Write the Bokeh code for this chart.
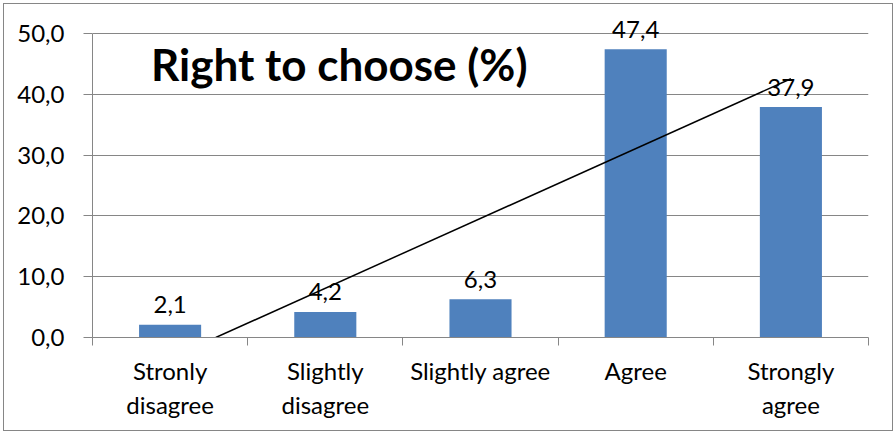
import numpy as np
from bokeh.plotting import figure
from bokeh.models import Range1d, FixedTicker, Label, ColumnDataSource
from bokeh.embed import file_html
from bokeh.resources import INLINE

categories = ["Stronly\ndisagree", "Slightly\ndisagree", "Slightly agree", "Agree", "Strongly\nagree"]
values = [2.1, 4.2, 6.3, 47.4, 37.9]
y_ticks = [0, 10, 20, 30, 40, 50]
y_tick_labels = ["0,0", "10,0", "20,0", "30,0", "40,0", "50,0"]
title_text = "Right to choose (%)"

FONT = "Lato"
GRAY = "#868686"
FS = "24px"

xs = [i + 0.5 for i in range(len(values))]
labels = [f"{v:.1f}".replace(".", ",") for v in values]
src = ColumnDataSource(dict(x=xs, top=values, label=labels))

# frame extends a little above the 50 gridline so the top data label is not clipped
p = figure(width=890, height=428, output_backend="svg", toolbar_location=None,
           x_range=Range1d(0, len(values)), y_range=Range1d(0, 54.1),
           min_border_left=88, min_border_right=26, min_border_top=4, min_border_bottom=95,
           styles={"margin": "3px", "border": "1px solid #868686"})
p.outline_line_color = None
p.background_fill_color = "white"
p.border_fill_color = "white"

p.vbar(x="x", top="top", width=0.4, source=src, fill_color="#4F81BD", line_color=None)

# linear trendline (Excel style), clipped at y=0
xn = np.arange(1, len(values) + 1)
m, b = np.polyfit(xn, values, 1)
x0 = max(-b / m, 1.0)
x1 = float(len(values))
p.line([x0 - 0.5, x1 - 0.5], [m * x0 + b, m * x1 + b], line_color="black", line_width=1.5)

for x, v, lab in zip(xs, values, labels):
    p.add_layout(Label(x=x, y=v, text=lab, text_align="center",
                       text_baseline="alphabetic", y_offset=20, text_font=FONT,
                       text_font_size=FS, text_color="black"))

p.add_layout(Label(x=1.59, y=44.9, text=title_text, text_align="center",
                   text_baseline="alphabetic", text_font=FONT, text_font_style="bold",
                   text_font_size="44px", text_color="black"))

# y axis
p.yaxis.ticker = FixedTicker(ticks=y_ticks)
p.yaxis.bounds = (y_ticks[0], y_ticks[-1])
p.yaxis.major_label_overrides = {t: l for t, l in zip(y_ticks, y_tick_labels)}
p.yaxis.minor_tick_line_color = None
p.yaxis.major_tick_in = 0
p.yaxis.major_tick_out = 9
p.yaxis.major_tick_line_color = GRAY
p.yaxis.axis_line_color = GRAY
p.yaxis.major_label_text_font = FONT
p.yaxis.major_label_text_font_size = FS
p.yaxis.major_label_text_color = "black"
p.yaxis.major_label_standoff = 19

# x axis
p.xaxis.ticker = FixedTicker(ticks=xs, minor_ticks=list(range(len(values) + 1)))
p.xaxis.major_label_overrides = {x: c for x, c in zip(xs, categories)}
p.xaxis.major_tick_line_color = None
p.xaxis.major_tick_out = 0
p.xaxis.major_tick_in = 0
p.xaxis.minor_tick_line_color = GRAY
p.xaxis.minor_tick_in = 0
p.xaxis.minor_tick_out = 8
p.xaxis.axis_line_color = GRAY
p.xaxis.major_label_text_font = FONT
p.xaxis.major_label_text_font_size = FS
p.xaxis.major_label_text_color = "black"
p.xaxis.major_label_standoff = 10

p.xgrid.grid_line_color = None
p.ygrid.grid_line_color = GRAY
p.ygrid.ticker = FixedTicker(ticks=y_ticks)

open("out.html", "w").write(file_html(p, INLINE))
